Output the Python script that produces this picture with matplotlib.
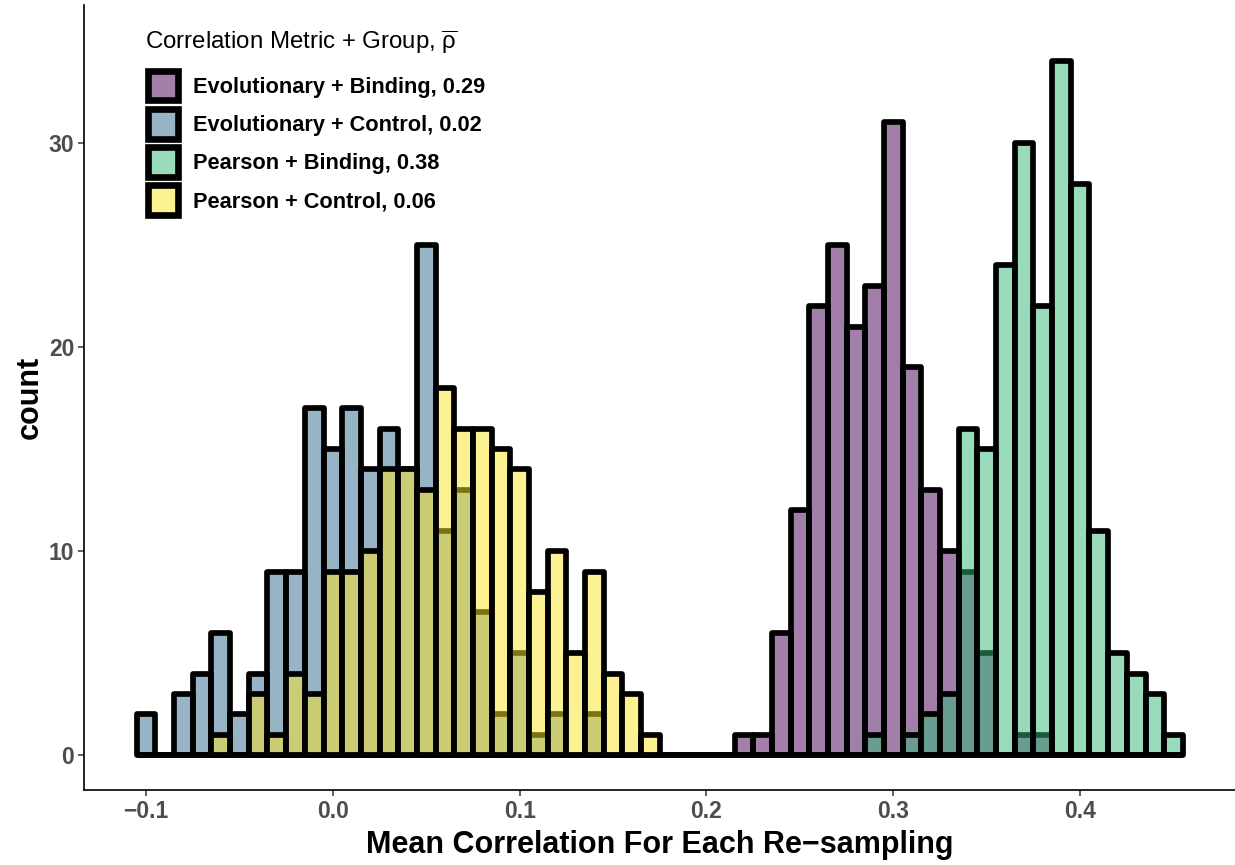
import numpy as np
import matplotlib
matplotlib.use("Agg")
import matplotlib.pyplot as plt
from matplotlib.colors import to_rgba
from matplotlib.patches import Rectangle
from matplotlib.legend_handler import HandlerPatch

plt.rcParams['font.family'] = ['Liberation Sans', 'DejaVu Sans']
plt.rcParams['mathtext.fontset'] = 'custom'
plt.rcParams['mathtext.rm'] = 'Liberation Sans'
plt.rcParams['mathtext.it'] = 'Liberation Sans'

# ---------------- data ----------------
group_labels = ["Evolutionary + Binding, 0.29",
                "Evolutionary + Control, 0.02",
                "Pearson + Binding, 0.38",
                "Pearson + Control, 0.06"]
group_colors = ["#440154", "#31688E", "#35B779", "#FDE725"]

bin_width = 0.01
bin_first = -0.10
bin_last = 0.45

evo_binding_start = 0.22
evo_binding_counts = [1, 1, 6, 12, 22, 25, 21, 23, 31, 19, 13, 10, 9, 5, 0, 1, 1]

evo_control_start = -0.10
evo_control_counts = [2, 0, 3, 4, 6, 2, 4, 9, 9, 17, 15, 17, 14, 16, 14, 25,
                      11, 13, 7, 2, 5, 1, 2, 0, 2]

pearson_binding_start = 0.29
pearson_binding_counts = [1, 0, 1, 2, 3, 16, 15, 24, 30, 22, 34, 28, 11, 5, 4, 3, 1]

pearson_control_start = -0.06
pearson_control_counts = [1, 0, 3, 1, 4, 3, 9, 9, 10, 14, 14, 13, 18, 16, 16, 15,
                          14, 8, 10, 5, 9, 4, 3, 1]

x_tick_values = [-0.1, 0.0, 0.1, 0.2, 0.3, 0.4]
x_tick_labels = ["\u22120.1", "0.0", "0.1", "0.2", "0.3", "0.4"]
y_tick_values = [0, 10, 20, 30]
y_tick_labels = ["0", "10", "20", "30"]

x_title = "Mean Correlation For Each Re\u2212sampling"
y_title = "count"
legend_title = r"Correlation Metric + Group, $\overline{\rho}$"

# ---------------- build full-range bins ----------------
n_bins = int(round((bin_last - bin_first) / bin_width)) + 1
centers = bin_first + bin_width * np.arange(n_bins)


def full_counts(start, counts):
    arr = np.zeros(n_bins)
    off = int(round((start - bin_first) / bin_width))
    arr[off:off + len(counts)] = counts
    return arr


series = [full_counts(evo_binding_start, evo_binding_counts),
          full_counts(evo_control_start, evo_control_counts),
          full_counts(pearson_binding_start, pearson_binding_counts),
          full_counts(pearson_control_start, pearson_control_counts)]

# ---------------- figure ----------------
W, H = 1235, 865
fig = plt.figure(figsize=(W / 100, H / 100), dpi=100)
ax_left, ax_right, ax_top, ax_bottom = 84, 1235, 5, 790
ax = fig.add_axes([ax_left / W, 1 - ax_bottom / H,
                   (ax_right - ax_left) / W, (ax_bottom - ax_top) / H])

lw = 4.1
for lab, col, cnt in zip(group_labels, group_colors, series):
    bars = ax.bar(centers, cnt, width=bin_width, facecolor=to_rgba(col, 0.5),
                  edgecolor="black", linewidth=lw, label=lab, align="center")
    for p in bars.patches:
        p.set_joinstyle("round")

ax.set_xlim(-0.1332, 0.4829)
ax.set_ylim(-1.7, 36.75)

ax.set_xticks(x_tick_values)
ax.set_xticklabels(x_tick_labels)
ax.set_yticks(y_tick_values)
ax.set_yticklabels(y_tick_labels)

for s in ["top", "right"]:
    ax.spines[s].set_visible(False)
for s in ["left", "bottom"]:
    ax.spines[s].set_linewidth(1.2)
    ax.spines[s].set_color("black")

ax.tick_params(axis="both", direction="out", length=4, width=1.1,
               color="#333333", labelcolor="#4D4D4D", labelsize=16.5, pad=3)
for t in ax.get_xticklabels() + ax.get_yticklabels():
    t.set_fontweight("bold")

ax.set_xlabel(x_title, fontsize=22, fontweight="bold", color="black")
ax.set_ylabel(y_title, fontsize=22, fontweight="bold", color="black")
ax.xaxis.set_label_coords(0.5, -(845 - ax_bottom) / (ax_bottom - ax_top))
ax.xaxis.label.set_va("center")
ax.yaxis.set_label_coords(-(ax_left - 30) / (ax_right - ax_left), 0.5)
ax.yaxis.label.set_va("center")

# legend keys (thicker outline like the ggplot keys)
key_handles = [Rectangle((0, 0), 1, 1, facecolor=to_rgba(c, 0.5),
                         edgecolor="black", linewidth=4.8)
               for c in group_colors]
key_dx = 2.4  # points


def key_patch(legend, orig_handle, xdescent, ydescent, width, height, fontsize):
    return Rectangle((-xdescent + key_dx, -ydescent), height, height)


leg = ax.legend(handles=key_handles, labels=group_labels, title=legend_title,
                loc="upper left",
                bbox_to_anchor=(145 / W, 1 - 28 / H), bbox_transform=fig.transFigure,
                frameon=False, prop={"weight": "bold", "size": 15.7},
                title_fontsize=17.3, handlelength=1.5, handleheight=1.7,
                labelspacing=0.40, handletextpad=0.70, borderpad=0,
                borderaxespad=0, alignment="left",
                handler_map={Rectangle: HandlerPatch(patch_func=key_patch)})
leg._legend_box.sep += 4.5

fig.savefig("out.png", dpi=100)
